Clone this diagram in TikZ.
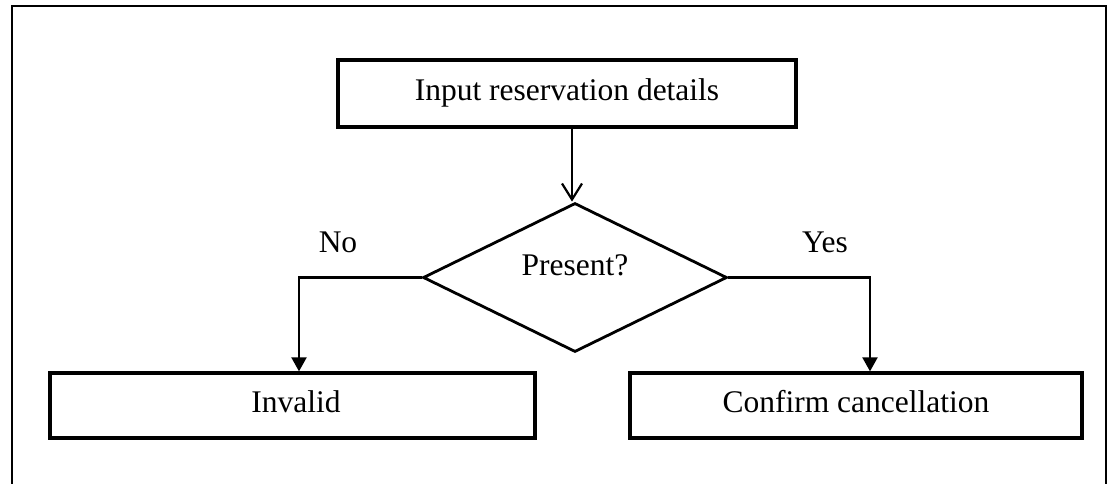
\documentclass[tikz,border=0pt]{standalone}
\usepackage{fontspec}
\setmainfont{Liberation Serif}
\usetikzlibrary{shapes.geometric,arrows.meta,calc}
\begin{document}
\begin{tikzpicture}[x=1pt,y=1pt,
  every node/.style={font=\fontsize{31.5}{38}\selectfont},
  procbox/.style={draw,line width=3.3pt,rectangle,inner sep=0pt},
  decbox/.style={draw,line width=2.8pt,diamond,inner sep=0pt,minimum width=304pt,minimum height=149pt},
  conn/.style={line width=2.2pt},
  openarrow/.style={conn,-{Straight Barb[length=16pt,width=20pt,line width=2.2pt]}},
  fillarrow/.style={conn,-{Triangle[length=14pt,width=15pt]}},
  lbl/.style={inner sep=0pt}]
\useasboundingbox (0,0) rectangle (1108,-484);
\draw[line width=2.4pt] (12,-500) -- (12,-6) -- (1106,-6) -- (1106,-500);
\node[procbox,minimum width=458pt,minimum height=67pt] (top) at (567,-93.5) {};
\node[lbl] (toptext) at (567,-93) {Input reservation details};
\node[decbox] (dia) at (575,-277.5) {};
\node[lbl] (diatext) at (575,-265) {Present?};
\node[procbox,minimum width=485pt,minimum height=65pt] (inv) at (292.5,-405.5) {};
\node[lbl] (invtext) at (296,-402) {Invalid};
\node[procbox,minimum width=452pt,minimum height=65pt] (conf) at (856,-405.5) {};
\node[lbl] (conftext) at (856,-402) {Confirm cancellation};
\node[lbl] (no) at (338,-242) {No};
\node[lbl] (yes) at (825,-242) {Yes};
\draw[openarrow] ([xshift=5pt]top.south) -- ([xshift=-3pt]dia.north);
\draw[fillarrow] (dia.west) -| ([xshift=6.5pt]inv.north);
\draw[fillarrow] (dia.east) -| ([xshift=14pt]conf.north);
\end{tikzpicture}
\end{document}
